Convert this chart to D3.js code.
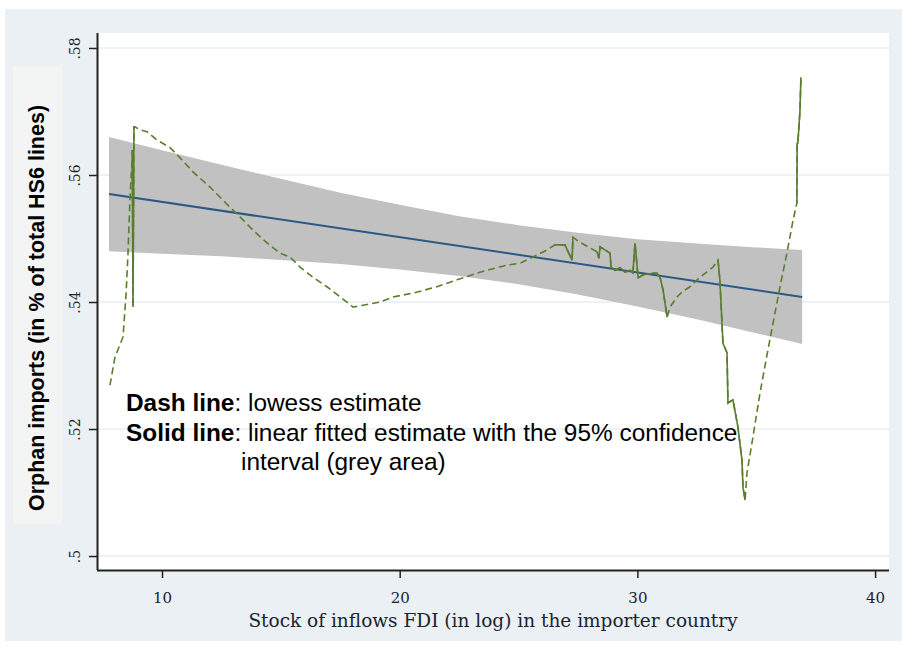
<!DOCTYPE html>
<html><head><meta charset="utf-8">
<script src="https://cdn.jsdelivr.net/npm/d3@7"></script>
<style>html,body{margin:0;padding:0;background:#fff;}svg{display:block;}</style>
</head><body>
<script>
// ---- data ----
const xTicks = [10, 20, 30, 40];
const yTicks = [0.5, 0.52, 0.54, 0.56, 0.58];
const yTickLabels = [".5", ".52", ".54", ".56", ".58"];
const xTitle = "Stock of inflows FDI (in log) in the importer country";
const yTitle = "Orphan imports (in % of total HS6 lines)";

// linear fit + 95% CI
const ciX  = [7.77, 10, 12.5, 15, 17.5, 20, 22.5, 25, 27.5, 30, 32.5, 35, 36.93];
const ciHi = [.5660, .5639, .5616, .5594, .5572, .5553, .5535, .5521, .5509, .5499, .5492, .5486, .5482];
const ciLo = [.5480, .5476, .5472, .5466, .5460, .5451, .5441, .5428, .5412, .5393, .5373, .5351, .5334];
const fitX = [7.77, 36.93];
const fitY = [.5570, .5408];

// lowess estimate
const lowX = [7.81, 8.02, 8.36, 8.49, 8.57, 8.65, 8.74, 8.75, 8.78, 8.82, 8.86, 9.07, 9.37, 9.79, 10.34, 10.76, 11.30, 12.02, 12.65, 13.28,
  13.83, 14.42, 14.96, 15.38, 15.81, 16.35, 16.94, 17.49, 18.04, 18.46, 19.17, 19.72, 20.56, 21.57, 22.41, 23.38, 24.51, 25.06, 25.61, 26.20,
  26.53, 26.95, 27.25, 27.29, 27.50, 27.92, 28.30, 28.38, 28.43, 28.85, 28.89, 29.06, 29.27, 29.48, 29.69, 29.81, 29.90, 30.03, 30.24, 30.82,
  30.95, 31.08, 31.25, 31.37, 31.67, 31.88, 32.21, 32.63, 33.18, 33.39, 33.47, 33.60, 33.77, 33.81, 34.02, 34.23, 34.40, 34.44, 34.53, 34.61,
  34.82, 35.16, 35.49, 35.79, 36.00, 36.29, 36.55, 36.71, 36.72, 36.75, 36.84, 36.88];
const lowY = [.5269, .5313, .5345, .5414, .5477, .5561, .5624, .5639, .5392, .5676, .5676, .5671, .5668, .5655, .5643, .5627, .5605, .5581, .5557, .5534,
  .5513, .5493, .5477, .5471, .5455, .5439, .5424, .5408, .5392, .5395, .5400, .5408, .5414, .5424, .5435, .5447, .5458, .5461, .5471, .5482,
  .5490, .5490, .5466, .5502, .5496, .5487, .5479, .5469, .5487, .5477, .5455, .5450, .5454, .5447, .5450, .5446, .5493, .5438, .5443, .5446,
  .5439, .5419, .5376, .5392, .5408, .5416, .5424, .5439, .5455, .5466, .5435, .5335, .5320, .5241, .5246, .5203, .5151, .5109, .5088, .5131,
  .5178, .5257, .5324, .5383, .5424, .5477, .5529, .5556, .5650, .5650, .5702, .5754];
// index runs of the lowess curve that render as solid (dense points)
const solidRuns = [[7, 10], [40, 43], [46, 62], [69, 78], [87, 91]];

const noteLines = [
  {bold: "Dash line", rest: ": lowess estimate"},
  {bold: "Solid line", rest: ": linear fitted estimate with the 95% confidence"},
  {bold: "", rest: "interval (grey area)"}
];

// ---- drawing ----
const W = 902, H = 649;
const svg = d3.select("body").append("svg").attr("width", W).attr("height", H);
svg.append("rect").attr("x", 5).attr("y", 9).attr("width", W - 5).attr("height", 632).attr("fill", "#eaf0f3");

const L = 97, R = 889, T = 33, B = 570;
const x = d3.scaleLinear().domain([7.265, 40.585]).range([L, R]);
const y = d3.scaleLinear().domain([0.4978, 0.58236]).range([B, T]);

svg.append("rect").attr("x", L).attr("y", T).attr("width", R - L).attr("height", B - T).attr("fill", "#ffffff");

// grid
svg.append("g").selectAll("line").data(yTicks).join("line")
  .attr("x1", L).attr("x2", R).attr("y1", d => y(d)).attr("y2", d => y(d))
  .attr("stroke", "#e6eef2").attr("stroke-width", 1.5);

// CI band
const band = ciX.map((v, i) => ({x: v, lo: ciLo[i], hi: ciHi[i]}));
svg.append("path").datum(band)
  .attr("d", d3.area().x(d => x(d.x)).y0(d => y(d.lo)).y1(d => y(d.hi)))
  .attr("fill", "#c1c1c1");

// fit line
svg.append("path").datum(fitX.map((v, i) => [v, fitY[i]]))
  .attr("d", d3.line().x(d => x(d[0])).y(d => y(d[1])))
  .attr("stroke", "#2b5886").attr("stroke-width", 2).attr("fill", "none");

// lowess
const lowPts = lowX.map((v, i) => [v, lowY[i]]);
const lineGen = d3.line().x(d => x(d[0])).y(d => y(d[1]));
svg.append("path").datum(lowPts).attr("d", lineGen)
  .attr("stroke", "#5a7d2e").attr("stroke-width", 1.6).attr("fill", "none")
  .attr("stroke-dasharray", "7,4");
svg.append("g").selectAll("path").data(solidRuns).join("path")
  .attr("d", r => lineGen(lowPts.slice(r[0], r[1] + 1)))
  .attr("stroke", "#5a7d2e").attr("stroke-width", 1.6).attr("fill", "none");

// axes
const xAxis = svg.append("g").attr("transform", `translate(0,${B})`)
  .call(d3.axisBottom(x).tickValues(xTicks).tickSize(8).tickFormat(d3.format("d")));
xAxis.select(".domain").attr("d", `M${L},0.5H${R}`).attr("stroke", "#222").attr("stroke-width", 2);
xAxis.selectAll(".tick line").attr("stroke", "#222").attr("stroke-width", 1.5);
xAxis.selectAll(".tick text").attr("font-family", "DejaVu Serif, serif").attr("font-size", 15)
  .attr("fill", "#1a2430").attr("y", 22).attr("dy", "0.71em");

const yAxis = svg.append("g").attr("transform", `translate(${L},0)`)
  .call(d3.axisLeft(y).tickValues(yTicks).tickSize(8).tickFormat((d, i) => yTickLabels[i]));
yAxis.select(".domain").attr("d", `M0.5,${T}V${B}`).attr("stroke", "#222").attr("stroke-width", 2);
yAxis.selectAll(".tick line").attr("stroke", "#222").attr("stroke-width", 1.5);
yAxis.selectAll(".tick text").attr("font-family", "DejaVu Serif, serif").attr("font-size", 14)
  .attr("fill", "#1a2430").attr("text-anchor", "middle")
  .attr("transform", "rotate(-90)").attr("x", 0).attr("y", -17).attr("dy", null);

// axis titles
svg.append("text").attr("x", 493).attr("y", 627).attr("text-anchor", "middle")
  .attr("font-family", "DejaVu Serif, serif").attr("font-size", 18.5).attr("fill", "#1a2430")
  .text(xTitle);

svg.append("rect").attr("x", 13).attr("y", 66).attr("width", 49).attr("height", 458).attr("fill", "#f3f4f4");
svg.append("text").attr("transform", "translate(44,308) rotate(-90)").attr("text-anchor", "middle")
  .attr("font-family", "Liberation Sans, Arial, sans-serif").attr("font-weight", "bold").attr("font-size", 21.5)
  .attr("fill", "#000").text(yTitle);

// note
const noteX = [126, 126, 241], noteY = [411, 441, 470];
noteLines.forEach((ln, i) => {
  const t = svg.append("text").attr("x", noteX[i]).attr("y", noteY[i])
    .attr("font-family", "Liberation Sans, Arial, sans-serif").attr("font-size", 24.4).attr("fill", "#000");
  if (ln.bold) t.append("tspan").attr("font-weight", "bold").text(ln.bold);
  t.append("tspan").text(ln.rest);
});
</script>
</body></html>
